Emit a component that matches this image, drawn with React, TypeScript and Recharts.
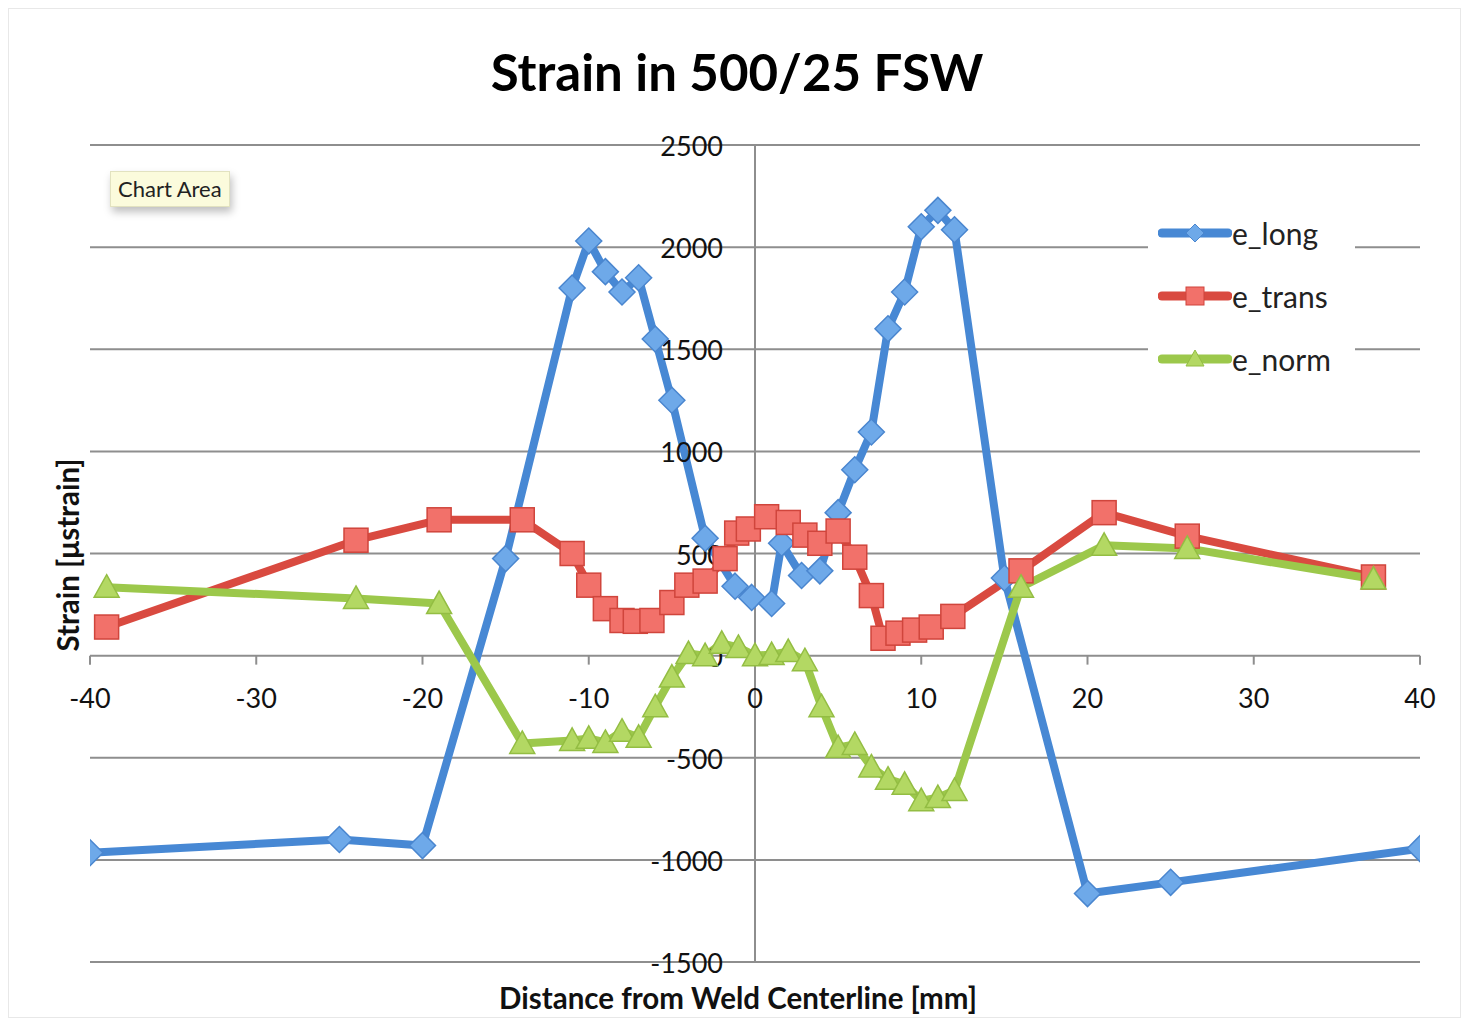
import React from "react";
import { LineChart, Line, XAxis, YAxis, ReferenceLine, ReferenceDot } from "recharts";

// ---- data ----
const longX = [-40, -25, -20, -15, -11, -10, -9, -8, -7, -6, -5, -3, -1.2, -0.2, 1, 1.6, 2.8, 3.9, 5, 6, 7, 8, 9, 10, 11, 12, 15, 20, 25, 40];
const longY = [-965, -900, -930, 475, 1800, 2030, 1880, 1780, 1850, 1550, 1250, 575, 340, 285, 255, 550, 392, 415, 700, 910, 1095, 1600, 1780, 2100, 2180, 2085, 380, -1165, -1110, -945];

const transX = [-39, -24, -19, -14, -11, -10, -9, -8, -7.2, -6.2, -5, -4.1, -3, -1.8, -1.1, -0.4, 0.7, 2, 3, 3.9, 5, 6, 7, 7.7, 8.6, 9.6, 10.6, 11.9, 16, 21, 26, 37.2];
const transY = [140, 565, 665, 665, 500, 345, 230, 172, 168, 172, 260, 345, 365, 475, 600, 620, 680, 652, 590, 550, 610, 482, 294, 85, 110, 125, 140, 192, 415, 700, 585, 385];

const normX = [-39, -24, -19, -14, -11, -10, -9, -8, -7, -6, -5, -4, -3, -2, -1, 0, 1, 2, 3, 4, 5, 6, 7, 8, 9, 10, 11, 12, 16, 21, 26, 37.2];
const normY = [335, 280, 255, -430, -415, -405, -425, -370, -400, -250, -105, 10, 0, 60, 40, 0, 5, 20, -25, -250, -450, -435, -545, -605, -630, -710, -695, -660, 335, 540, 525, 375];

const xTicks = [-40, -30, -20, -10, 0, 10, 20, 30, 40];
const yTicks = [-1500, -1000, -500, 0, 500, 1000, 1500, 2000, 2500];

const seriesNames = ["e_long", "e_trans", "e_norm"];

const build = (xs: number[], ys: number[]) => xs.map((x, i) => ({ x, y: ys[i] }));
const longData = build(longX, longY);
const transData = build(transX, transY);
const normData = build(normX, normY);

// ---- styles ----
const FONT = "Lato, 'Open Sans', sans-serif";
const BLUE = { line: "#4788d4", fill: "#6ea9e9", stroke: "#4a86cf" };
const RED = { line: "#d94a40", fill: "#f2716a", stroke: "#d0453c" };
const GREEN = { line: "#9cc84b", fill: "#b3d863", stroke: "#93bd43" };
const GRID = "#8e8e8e";

const diamondDot = (props: any) => {
  const { cx, cy, index } = props;
  if (cx == null || cy == null) return <g key={`dl-${index}`} />;
  const r = 13;
  return (
    <path
      key={`dl-${index}`}
      d={`M${cx},${cy - r}L${cx + r},${cy}L${cx},${cy + r}L${cx - r},${cy}Z`}
      fill={BLUE.fill}
      stroke={BLUE.stroke}
      strokeWidth={1.5}
    />
  );
};

const squareDot = (props: any) => {
  const { cx, cy, index } = props;
  if (cx == null || cy == null) return <g key={`sq-${index}`} />;
  const r = 12;
  return (
    <rect
      key={`sq-${index}`}
      x={cx - r}
      y={cy - r}
      width={2 * r}
      height={2 * r}
      fill={RED.fill}
      stroke={RED.stroke}
      strokeWidth={1.5}
    />
  );
};

const triangleDot = (props: any) => {
  const { cx, cy, index } = props;
  if (cx == null || cy == null) return <g key={`tr-${index}`} />;
  const r = 12.5;
  return (
    <path
      key={`tr-${index}`}
      d={`M${cx},${cy - r}L${cx + r},${cy + r * 0.8}L${cx - r},${cy + r * 0.8}Z`}
      fill={GREEN.fill}
      stroke={GREEN.stroke}
      strokeWidth={1.5}
    />
  );
};

const LegendBox = () => {
  const items = [
    { name: seriesNames[0], c: BLUE, m: "diamond" },
    { name: seriesNames[1], c: RED, m: "square" },
    { name: seriesNames[2], c: GREEN, m: "triangle" },
  ];
  return (
    <div
      style={{
        position: "absolute",
        left: 1140,
        top: 185,
        width: 207,
        background: "#fff",
        padding: "8px 0 8px 10px",
        boxSizing: "border-box",
      }}
    >
      {items.map((it) => (
        <div key={it.name} style={{ display: "flex", alignItems: "center", height: 63 }}>
          <svg width={74} height={26} style={{ display: "block" }}>
            <line x1={4} y1={13} x2={70} y2={13} stroke={it.c.line} strokeWidth={9} strokeLinecap="round" />
            {it.m === "diamond" && (
              <path d="M37,4L46,13L37,22L28,13Z" fill={it.c.fill} stroke={it.c.stroke} strokeWidth={1} />
            )}
            {it.m === "square" && (
              <rect x={28} y={4} width={18} height={18} fill={it.c.fill} stroke={it.c.stroke} strokeWidth={1} />
            )}
            {it.m === "triangle" && (
              <path d="M37,4L46,20L28,20Z" fill={it.c.fill} stroke={it.c.stroke} strokeWidth={1} />
            )}
          </svg>
          <span style={{ fontFamily: FONT, fontSize: 30, color: "#222", lineHeight: 1 }}>{it.name}</span>
        </div>
      ))}
    </div>
  );
};

export default function App() {
  const W = 1453;
  const H = 1010;
  return (
    <div style={{ position: "relative", width: W, height: H, background: "#fff", fontFamily: FONT }}>
      <div
        style={{
          position: "absolute",
          left: 0,
          top: 0,
          width: W,
          height: H,
          border: "1px solid #e8e8e8",
          boxSizing: "border-box",
        }}
      />
      <LineChart
        width={W}
        height={H}
        margin={{ top: 137, right: 41, bottom: 56, left: 82 }}
        style={{ position: "absolute", left: 0, top: 0 }}
      >
        <XAxis type="number" dataKey="x" domain={[-40, 40]} ticks={xTicks} hide allowDataOverflow />
        <YAxis type="number" dataKey="y" domain={[-1500, 2500]} ticks={yTicks} hide allowDataOverflow />
        {yTicks.map((v) => (
          <ReferenceLine key={`g${v}`} y={v} stroke={GRID} strokeWidth={2} ifOverflow="visible" />
        ))}
        <ReferenceLine x={0} stroke={GRID} strokeWidth={2} ifOverflow="visible" />
        {xTicks.map((t) => (
          <ReferenceDot
            key={`xt${t}`}
            x={t}
            y={0}
            r={0}
            ifOverflow="visible"
            shape={(p: any) => (
              <g>
                <line x1={p.cx} y1={p.cy} x2={p.cx} y2={p.cy + 9} stroke={GRID} strokeWidth={2} />
                <text
                  x={p.cx}
                  y={p.cy + 52}
                  textAnchor="middle"
                  fontFamily={FONT}
                  fontSize={27}
                  fill="#111"
                >
                  {t}
                </text>
              </g>
            )}
          />
        ))}
        {yTicks.map((v) => (
          <ReferenceDot
            key={`yt${v}`}
            x={0}
            y={v}
            r={0}
            ifOverflow="visible"
            shape={(p: any) => (
              <text
                x={p.cx - 32}
                y={p.cy + 11}
                textAnchor="end"
                fontFamily={FONT}
                fontSize={27}
                fill="#111"
              >
                {v}
              </text>
            )}
          />
        ))}
        <Line
          data={longData}
          dataKey="y"
          name={seriesNames[0]}
          stroke={BLUE.line}
          strokeWidth={8}
          strokeLinejoin="round"
          dot={diamondDot}
          activeDot={false}
          isAnimationActive={false}
        />
        <Line
          data={transData}
          dataKey="y"
          name={seriesNames[1]}
          stroke={RED.line}
          strokeWidth={8}
          strokeLinejoin="round"
          dot={squareDot}
          activeDot={false}
          isAnimationActive={false}
        />
        <Line
          data={normData}
          dataKey="y"
          name={seriesNames[2]}
          stroke={GREEN.line}
          strokeWidth={8}
          strokeLinejoin="round"
          dot={triangleDot}
          activeDot={false}
          isAnimationActive={false}
        />
      </LineChart>

      <LegendBox />

      {/* title */}
      <div
        style={{
          position: "absolute",
          left: 229,
          top: 38,
          width: 1000,
          textAlign: "center",
          fontFamily: FONT,
          fontWeight: 700,
          fontSize: 51,
          lineHeight: 1,
          color: "#000",
        }}
      >
        Strain in 500/25 FSW
      </div>
      {/* x axis title */}
      <div
        style={{
          position: "absolute",
          left: 230,
          top: 975,
          width: 1000,
          textAlign: "center",
          fontFamily: FONT,
          fontWeight: 700,
          fontSize: 29.5,
          lineHeight: 1,
          color: "#111",
        }}
      >
        Distance from Weld Centerline [mm]
      </div>
      {/* y axis title */}
      <div
        style={{
          position: "absolute",
          left: 60 - 150,
          top: 547 - 16,
          width: 300,
          height: 32,
          textAlign: "center",
          fontFamily: FONT,
          fontWeight: 700,
          fontSize: 29.5,
          lineHeight: "32px",
          color: "#111",
          transform: "rotate(-90deg)",
        }}
      >
        Strain [μstrain]
      </div>
      {/* Chart Area tooltip */}
      <div
        style={{
          position: "absolute",
          left: 102,
          top: 163,
          padding: "4px 7px",
          background: "#fbfbdc",
          border: "1px solid #e2e2c0",
          boxShadow: "2px 5px 8px rgba(0,0,0,0.25)",
          fontFamily: FONT,
          fontSize: 22,
          lineHeight: "26px",
          color: "#222",
        }}
      >
        Chart Area
      </div>
    </div>
  );
}
